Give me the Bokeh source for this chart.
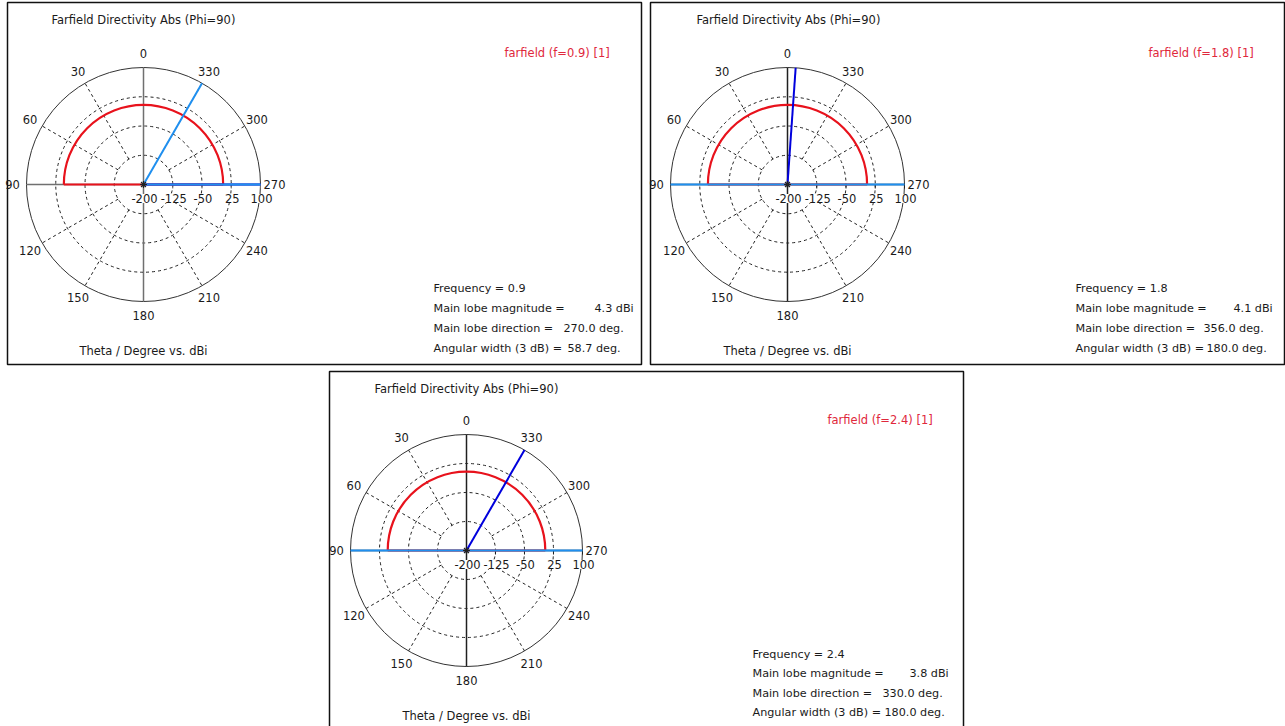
import math
from bokeh.plotting import figure
from bokeh.models import Range1d
from bokeh.embed import file_html
from bokeh.resources import INLINE
from bokeh.core.properties import value

# ---------------- data ----------------
frequency = [0.9, 1.8, 2.4]
main_lobe_magnitude = [4.3, 4.1, 3.8]          # dBi
main_lobe_direction = [270.0, 356.0, 330.0]    # deg
angular_width = [58.7, 180.0, 180.0]           # deg (3 dB)
legend_labels = ["farfield (f=0.9) [1]", "farfield (f=1.8) [1]", "farfield (f=2.4) [1]"]
# drawn direction marker (dark blue) and 3 dB boundary markers (light blue), theta in deg
direction_marker = [270, 356, 330]
width_markers = [[270, 330], [90, 270], [90, 270]]
# pattern of the phi=90 cut: main lobe over theta 270 -> 0 -> 90, floor elsewhere
lobe_theta_from = [270, 270, 270]
lobe_theta_to = [90, 90, 90]
floor_dbi = -200
theta_ticks = [0, 30, 60, 90, 120, 150, 180, 210, 240, 270, 300, 330]
radial_ticks = [-200, -125, -50, 25, 100]
title_text = "Farfield Directivity Abs (Phi=90)"
axis_text = "Theta / Degree vs. dBi"

# ---------------- layout (pixel positions) ----------------
W, H = 1285, 726
def X(px): return px
def Y(py): return H - py

centers = [(143, 184), (787, 184), (466, 550)]
radii = [117, 117, 116]
frames = [(7, 2, 641, 364), (650, 2, 1284, 364), (329, 371, 963, 740)]
title_pos = [(51, 19), (696, 19), (374, 388)]
legend_pos = [(504, 52), (1148, 52), (827, 419)]
axis_label_y = [350, 350, 715]
info_x = [433, 1075, 752]
info_rows = [[288, 308, 328, 348], [288, 308, 328, 348], [654, 673, 693, 712]]
val_x_mag = [594, 1233, 909]
val_x_dir = [563, 1203, 882]
val_x_w = [567, 1206, 884]
axis_colors = ["#707070", "#202020", "#202020"]

FONT = value("DejaVu Sans")
FS = "11.5px"
FS_INFO = "11.2px"
TXT = "#1a1a1a"
RED = "#e8121c"
LBLUE = "#1f8fef"
DBLUE = "#0000dd"

p = figure(width=W, height=H, x_range=Range1d(0, W), y_range=Range1d(0, H),
           output_backend="svg", toolbar_location=None, min_border=0,
           x_axis_location=None, y_axis_location=None)
p.grid.visible = False
p.outline_line_color = None
p.background_fill_color = "white"
p.border_fill_color = "white"

rmin, rmax = radial_ticks[0], radial_ticks[-1]

def rad_of(v, R):
    return (v - rmin) / (rmax - rmin) * R

def pol(cx, cy, theta, r):
    a = math.radians(theta + 90)
    return cx + r * math.cos(a), cy + r * math.sin(a)

for i in range(3):
    cxp, cyp = centers[i]
    cx, cy = X(cxp), Y(cyp)
    R = radii[i]

    # frame
    l, t, r_, b = frames[i]
    p.quad(left=[X(l)], right=[X(r_)], top=[Y(t)], bottom=[Y(b)],
           fill_color=None, line_color="#111111", line_width=1.5)

    # dashed rings
    ring_r = [rad_of(v, R) for v in radial_ticks[1:-1]]
    p.circle(x=[cx] * len(ring_r), y=[cy] * len(ring_r), radius=ring_r,
             fill_color=None, line_color="#222222", line_width=1, line_dash="3 3")
    # dashed spokes
    sx0, sy0, sx1, sy1 = [], [], [], []
    for th in theta_ticks:
        if th % 90 == 0:
            continue
        a0 = pol(cx, cy, th, rad_of(radial_ticks[1], R))
        a1 = pol(cx, cy, th, R)
        sx0.append(a0[0]); sy0.append(a0[1]); sx1.append(a1[0]); sy1.append(a1[1])
    p.segment(x0=sx0, y0=sy0, x1=sx1, y1=sy1, line_color="#222222",
              line_width=1, line_dash="3 3")
    # outer circle
    p.circle(x=[cx], y=[cy], radius=[R], fill_color=None, line_color="#333333", line_width=1)
    # solid axes
    p.segment(x0=[cx, cx - R], y0=[cy + R, cy], x1=[cx, cx + R], y1=[cy - R, cy],
              line_color=axis_colors[i], line_width=1.5)
    # small ticks on radial axis
    tx = [cx + rad_of(v, R) for v in radial_ticks[1:]]
    p.segment(x0=tx, y0=[cy] * len(tx), x1=tx, y1=[cy - 4] * len(tx),
              line_color=axis_colors[i], line_width=1)

    # pattern (red)
    rm = rad_of(main_lobe_magnitude[i], R)
    r0 = rad_of(floor_dbi, R)
    p.arc(x=[cx], y=[cy], radius=[rm],
          start_angle=[math.radians(lobe_theta_from[i] + 90)],
          end_angle=[math.radians(lobe_theta_to[i] + 90 + 360)],
          direction="anticlock", line_color=RED, line_width=2.2)
    ea = pol(cx, cy, lobe_theta_to[i], r0); eb = pol(cx, cy, lobe_theta_to[i], rm)
    fa = pol(cx, cy, lobe_theta_from[i], r0); fb = pol(cx, cy, lobe_theta_from[i], rm)
    p.segment(x0=[ea[0], fa[0]], y0=[ea[1], fa[1]], x1=[eb[0], fb[0]], y1=[eb[1], fb[1]],
              line_color=RED, line_width=2.2)

    # main lobe direction (dark blue)
    d1 = pol(cx, cy, direction_marker[i], R)
    p.segment(x0=[cx], y0=[cy], x1=[d1[0]], y1=[d1[1]], line_color=DBLUE, line_width=2)
    # 3 dB markers (light blue)
    wx, wy = [], []
    for th in width_markers[i]:
        e = pol(cx, cy, th, R)
        wx.append(e[0]); wy.append(e[1])
    p.segment(x0=[cx] * len(wx), y0=[cy] * len(wy), x1=wx, y1=wy,
              line_color=LBLUE, line_width=2)
    # center marker
    p.scatter(x=[cx], y=[cy], marker="asterisk", size=7, line_color="#222222", line_width=1.2)

    # angular labels
    lx, ly, lt = [], [], []
    for th in theta_ticks:
        q = pol(cx, cy, th, R + 14)
        lx.append(q[0]); ly.append(q[1]); lt.append(str(th))
    p.text(x=lx, y=ly, text=lt, text_font=FONT, text_font_size=FS,
           text_align="center", text_baseline="middle", text_color=TXT)
    # radial labels
    rx = [cx + rad_of(v, R) + 1 for v in radial_ticks]
    p.text(x=rx, y=[cy - 14] * len(rx), text=[str(v) for v in radial_ticks],
           text_font=FONT, text_font_size=FS, text_align="center",
           text_baseline="middle", text_color=TXT,
           background_fill_color="white")

    # title, legend, axis label
    tpx, tpy = title_pos[i]
    p.text(x=[X(tpx)], y=[Y(tpy)], text=[title_text], text_font=FONT,
           text_font_size=FS, text_align="left", text_baseline="middle", text_color=TXT)
    lpx, lpy = legend_pos[i]
    p.text(x=[X(lpx)], y=[Y(lpy)], text=[legend_labels[i]], text_font=FONT,
           text_font_size=FS, text_align="left", text_baseline="middle", text_color="#e0283c")
    p.text(x=[cx], y=[Y(axis_label_y[i])], text=[axis_text], text_font=FONT,
           text_font_size=FS, text_align="center", text_baseline="middle", text_color=TXT)

    # info block
    rows = info_rows[i]
    p.text(x=[X(info_x[i])] * 4, y=[Y(v) for v in rows],
           text=[f"Frequency = {frequency[i]}", "Main lobe magnitude =",
                 "Main lobe direction =", "Angular width (3 dB) ="],
           text_font=FONT, text_font_size=FS_INFO, text_align="left",
           text_baseline="middle", text_color=TXT)
    p.text(x=[X(val_x_mag[i]), X(val_x_dir[i]), X(val_x_w[i])],
           y=[Y(rows[1]), Y(rows[2]), Y(rows[3])],
           text=[f"{main_lobe_magnitude[i]:.1f} dBi", f"{main_lobe_direction[i]:.1f} deg.",
                 f"{angular_width[i]:.1f} deg."],
           text_font=FONT, text_font_size=FS_INFO, text_align="left",
           text_baseline="middle", text_color=TXT)

open("out.html", "w").write(file_html(p, INLINE))
